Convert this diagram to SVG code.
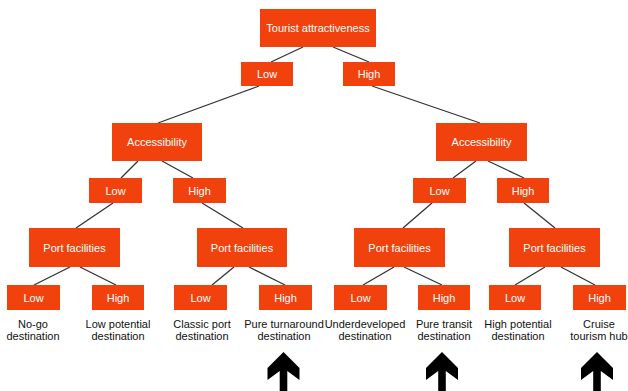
<svg xmlns="http://www.w3.org/2000/svg" width="628" height="391" viewBox="0 0 628 391">
<style>
.box{fill:#F1420E}
.bt{fill:#fff;font-family:"Liberation Sans",Arial,sans-serif;font-size:11px;text-anchor:middle;dominant-baseline:central}
.lbl{fill:#111;font-family:"Liberation Sans",Arial,sans-serif;font-size:11px;text-anchor:middle}
.con line{stroke:#333;stroke-width:1.3}
.arr{fill:#000}
</style>
<defs>
<path id="up" d="M0,0 L16,16 L16,28 L3.8,19 L3.8,40 L-3.8,40 L-3.8,19 L-16,28 L-16,16 Z"/>
</defs>
<rect width="628" height="391" fill="#fff"/>
<g class="con">
<line x1="303" y1="47" x2="271" y2="62"/>
<line x1="333" y1="47" x2="369" y2="62"/>
<line x1="259" y1="86" x2="158" y2="123"/>
<line x1="372" y1="86" x2="480" y2="123"/>
<line x1="138" y1="161" x2="121" y2="178"/>
<line x1="162" y1="161" x2="193" y2="178"/>
<line x1="476" y1="161" x2="453" y2="178"/>
<line x1="488" y1="161" x2="524" y2="178"/>
<line x1="113" y1="203" x2="76" y2="228"/>
<line x1="202" y1="203" x2="243" y2="228"/>
<line x1="432" y1="203" x2="403" y2="228"/>
<line x1="524" y1="203" x2="555" y2="228"/>
<line x1="70" y1="267" x2="34" y2="285"/>
<line x1="80" y1="267" x2="116" y2="285"/>
<line x1="234" y1="267" x2="212" y2="285"/>
<line x1="249" y1="267" x2="285" y2="285"/>
<line x1="394" y1="267" x2="363" y2="285"/>
<line x1="404" y1="267" x2="442" y2="285"/>
<line x1="545" y1="267" x2="515" y2="285"/>
<line x1="561" y1="267" x2="595" y2="285"/>
</g>
<g id="n-tourist"><rect class="box" x="260" y="9" width="116" height="38"/><text class="bt" x="318" y="28">Tourist attractiveness</text></g>
<g id="n-low1"><rect class="box" x="241" y="62" width="52" height="24"/><text class="bt" x="267" y="74">Low</text></g>
<g id="n-high1"><rect class="box" x="343" y="62" width="52" height="24"/><text class="bt" x="369" y="74">High</text></g>
<g id="n-acc-l"><rect class="box" x="112" y="123" width="90" height="38"/><text class="bt" x="157" y="142">Accessibility</text></g>
<g id="n-acc-r"><rect class="box" x="436" y="123" width="91" height="38"/><text class="bt" x="481.5" y="142">Accessibility</text></g>
<g id="n-ll"><rect class="box" x="89" y="178" width="53" height="25"/><text class="bt" x="115.5" y="190.5">Low</text></g>
<g id="n-lh"><rect class="box" x="173" y="178" width="53" height="25"/><text class="bt" x="199.5" y="190.5">High</text></g>
<g id="n-rl"><rect class="box" x="413" y="178" width="53" height="25"/><text class="bt" x="439.5" y="190.5">Low</text></g>
<g id="n-rh"><rect class="box" x="497" y="178" width="52" height="25"/><text class="bt" x="523" y="190.5">High</text></g>
<g id="n-pf1"><rect class="box" x="29" y="228" width="91" height="39"/><text class="bt" x="74.5" y="247.5">Port facilities</text></g>
<g id="n-pf2"><rect class="box" x="197" y="228" width="90" height="39"/><text class="bt" x="242" y="247.5">Port facilities</text></g>
<g id="n-pf3"><rect class="box" x="354" y="228" width="91" height="39"/><text class="bt" x="399.5" y="247.5">Port facilities</text></g>
<g id="n-pf4"><rect class="box" x="509" y="228" width="91" height="39"/><text class="bt" x="554.5" y="247.5">Port facilities</text></g>
<g id="leaf1"><rect class="box" x="7" y="285" width="53" height="25"/><text class="bt" x="33.5" y="297.5">Low</text><text class="lbl" x="33" y="328">No-go</text><text class="lbl" x="33" y="340">destination</text></g>
<g id="leaf2"><rect class="box" x="92" y="285" width="52" height="25"/><text class="bt" x="118" y="297.5">High</text><text class="lbl" x="118" y="328">Low potential</text><text class="lbl" x="118" y="340">destination</text></g>
<g id="leaf3"><rect class="box" x="174" y="285" width="53" height="25"/><text class="bt" x="200.5" y="297.5">Low</text><text class="lbl" x="202" y="328">Classic port</text><text class="lbl" x="202" y="340">destination</text></g>
<g id="leaf4"><rect class="box" x="259" y="285" width="53" height="25"/><text class="bt" x="285.5" y="297.5">High</text><text class="lbl" x="284" y="328">Pure turnaround</text><text class="lbl" x="284" y="340">destination</text></g>
<g id="leaf5"><rect class="box" x="334" y="285" width="53" height="25"/><text class="bt" x="360.5" y="297.5">Low</text><text class="lbl" x="365" y="328">Underdeveloped</text><text class="lbl" x="365" y="340">destination</text></g>
<g id="leaf6"><rect class="box" x="418" y="285" width="52" height="25"/><text class="bt" x="444" y="297.5">High</text><text class="lbl" x="444" y="328">Pure transit</text><text class="lbl" x="444" y="340">destination</text></g>
<g id="leaf7"><rect class="box" x="489" y="285" width="52" height="25"/><text class="bt" x="515" y="297.5">Low</text><text class="lbl" x="518" y="328">High potential</text><text class="lbl" x="518" y="340">destination</text></g>
<g id="leaf8"><rect class="box" x="573" y="285" width="53" height="25"/><text class="bt" x="599.5" y="297.5">High</text><text class="lbl" x="599" y="328">Cruise</text><text class="lbl" x="599" y="340">tourism hub</text></g>
<g id="arrows">
<use href="#up" class="arr" x="283.5" y="352"/>
<use href="#up" class="arr" x="442" y="352"/>
<use href="#up" class="arr" x="597" y="352"/>
</g>
</svg>
